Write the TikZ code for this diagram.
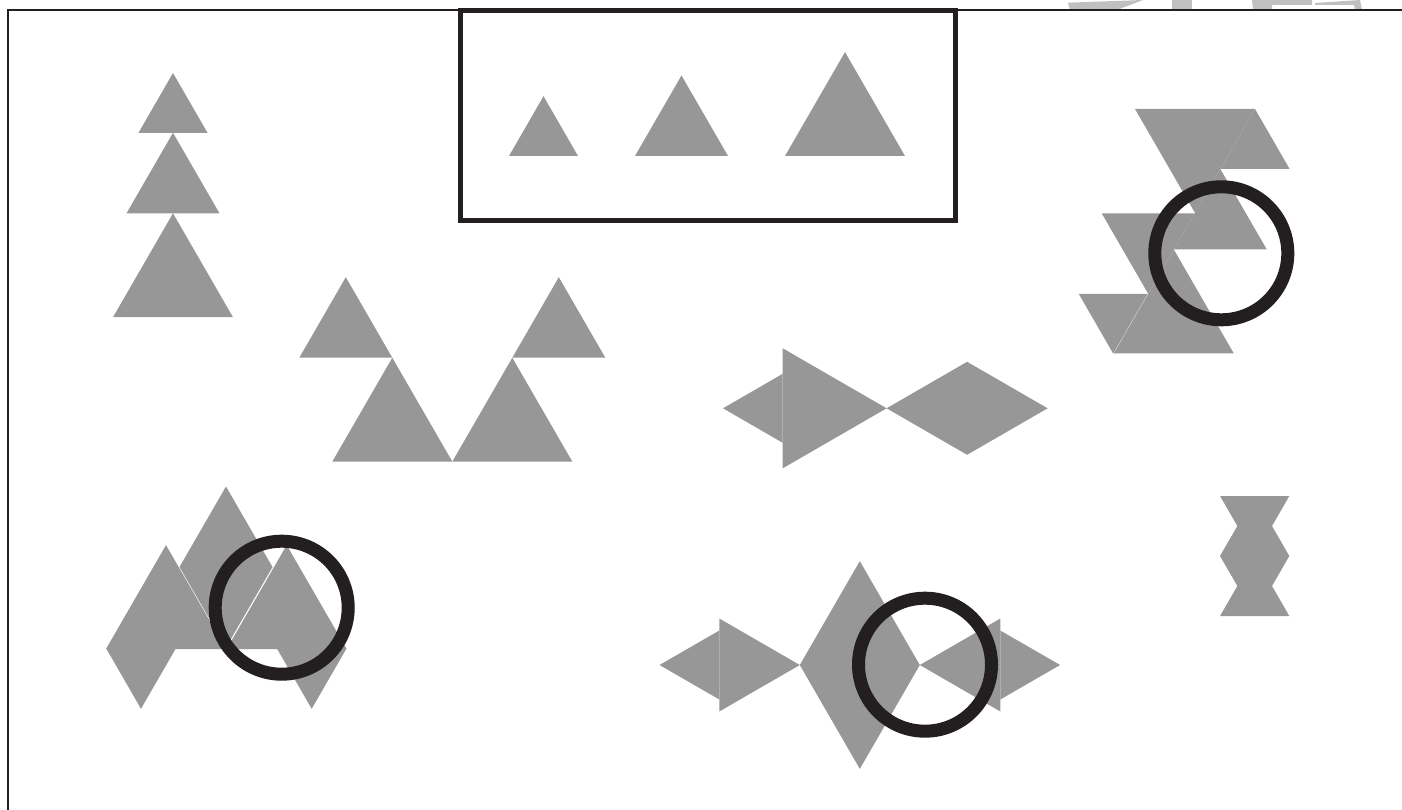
\documentclass[tikz,border=0pt]{standalone}
\definecolor{shapegray}{RGB}{151,151,152}
\definecolor{inkblack}{RGB}{35,31,32}
\definecolor{markgray}{RGB}{192,192,192}
\begin{document}
\begin{tikzpicture}[x=0.02cm,y=-0.02cm,tri/.style={fill=shapegray},ring/.style={draw=inkblack,line width=7.4pt},wmark/.style={fill=markgray}]
\useasboundingbox (0,0) rectangle (1402,810);
% watermark cut by the top edge
\fill[wmark] (1068,2.7) -- (1143,0) -- (1117,10) -- (1070,10) -- cycle;
\fill[wmark] (1172,0) rectangle (1192,10);
\fill[wmark] (1252,0) -- (1312,0) -- (1312,5) -- (1272,5) -- (1272,10) -- (1253,10) -- cycle;
\fill[wmark] (1315,3) -- (1360,0) -- (1362,10) -- (1355,10) -- (1354,5) -- (1315,5) -- cycle;
% frame
\draw[inkblack,line width=0.96pt] (8.2,810) -- (8.2,10.2) -- (1402,10.2);
% stacked tower
\fill[tri] (173,73) -- (207.5,132.8) -- (138.5,132.8) -- cycle;
\fill[tri] (173,132.8) -- (219.5,213.3) -- (126.5,213.3) -- cycle;
\fill[tri] (173,213.3) -- (233,317.2) -- (113,317.2) -- cycle;
% three sizes in box
\draw[inkblack,line width=2.9pt] (460.8,10.8) rectangle (955.3,220.8);
\fill[tri] (543.5,96.2) -- (578,156) -- (509,156) -- cycle;
\fill[tri] (681.5,75.5) -- (728,156) -- (635,156) -- cycle;
\fill[tri] (845,52.1) -- (905,156) -- (785,156) -- cycle;
% W group
\fill[tri] (345.8,277.2) -- (392.3,357.7) -- (299.3,357.7) -- cycle;
\fill[tri] (392.3,357.7) -- (452.3,461.6) -- (332.3,461.6) -- cycle;
\fill[tri] (512.3,357.7) -- (572.3,461.6) -- (452.3,461.6) -- cycle;
\fill[tri] (558.8,277.2) -- (605.3,357.7) -- (512.3,357.7) -- cycle;
% bow tie
\fill[tri] (723,408.3) -- (782.7,373.8) -- (782.7,442.8) -- cycle;
\fill[tri] (782.7,348.3) -- (886.6,408.3) -- (782.7,468.3) -- cycle;
\fill[tri] (886.6,408.3) -- (967.1,361.8) -- (967.1,454.8) -- cycle;
\fill[tri] (967.1,361.8) -- (1047.6,408.3) -- (967.1,454.8) -- cycle;
% arrows and diamond
\fill[tri] (659.5,665) -- (719.3,630.5) -- (719.3,699.5) -- cycle;
\fill[tri] (719.3,618.5) -- (799.8,665) -- (719.3,711.5) -- cycle;
\fill[tri] (859.8,561.1) -- (919.8,665) -- (799.8,665) -- cycle;
\fill[tri] (799.8,665) -- (919.8,665) -- (859.8,768.9) -- cycle;
\fill[tri] (919.8,665) -- (1000.3,618.5) -- (1000.3,711.5) -- cycle;
\fill[tri] (1000.3,630.5) -- (1060.1,665) -- (1000.3,699.5) -- cycle;
\draw[ring] (925,664.7) circle (66.5);
% mountain group
\fill[tri] (166,545.1) -- (226,649) -- (106,649) -- cycle;
\fill[tri] (226,486.5) -- (272.5,567) -- (179.5,567) -- cycle;
\fill[tri] (179.5,567) -- (272.5,567) -- (226,647.5) -- cycle;
\fill[tri] (286.7,545.1) -- (346.7,649) -- (226.7,649) -- cycle;
\fill[tri] (106.5,649) -- (175.5,649) -- (141,708.8) -- cycle;
\fill[tri] (277.2,649) -- (346.2,649) -- (311.7,708.8) -- cycle;
\draw[ring] (281.7,607.7) circle (66.5);
% zigzag group
\fill[tri] (1135,109) -- (1255,109) -- (1195,212.9) -- cycle;
\fill[tri] (1255,109) -- (1289.5,168.8) -- (1220.5,168.8) -- cycle;
\fill[tri] (1220.3,169) -- (1266.8,249.5) -- (1173.8,249.5) -- cycle;
\fill[tri] (1101.7,213.3) -- (1194.7,213.3) -- (1148.2,293.8) -- cycle;
\fill[tri] (1173.8,249.5) -- (1233.8,353.4) -- (1113.8,353.4) -- cycle;
\fill[tri] (1078.7,293.8) -- (1147.7,293.8) -- (1113.2,353.6) -- cycle;
\draw[ring] (1221.3,253.3) circle (66.5);
% hourglass
\fill[tri] (1220,496) -- (1289.3,496) -- (1254.7,556) -- cycle;
\fill[tri] (1254.7,496) -- (1289.3,556) -- (1220,556) -- cycle;
\fill[tri] (1220,556) -- (1289.3,556) -- (1254.7,616) -- cycle;
\fill[tri] (1254.7,556) -- (1289.3,616) -- (1220,616) -- cycle;
\end{tikzpicture}
\end{document}
